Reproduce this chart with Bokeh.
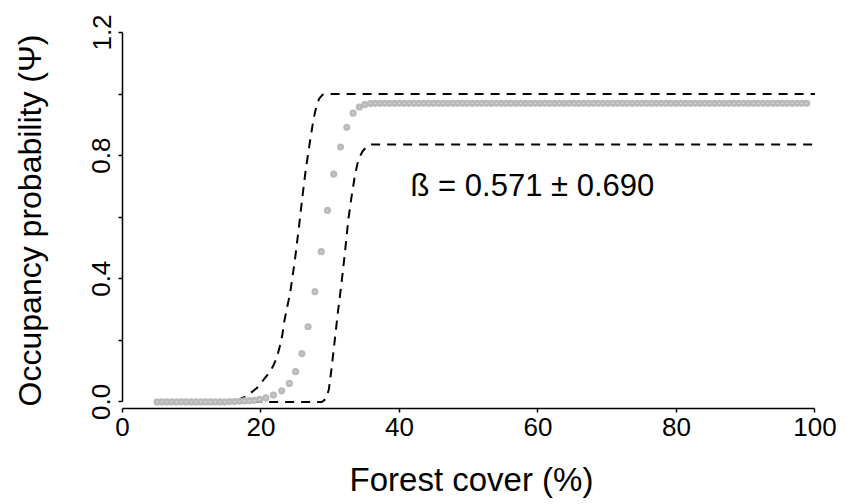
from bokeh.plotting import figure
from bokeh.models import FixedTicker, Range1d, Label, ColumnDataSource
from bokeh.embed import file_html
from bokeh.resources import INLINE

# ---- data ----
# predicted occupancy (grey points)
psi_x = [5.0, 5.7, 6.4, 7.1, 7.8, 8.5, 9.2, 9.9, 10.6, 11.3, 12.0, 12.7, 13.4, 14.1,
         14.8, 15.5, 16.2, 16.9, 17.6, 18.3, 19.0, 19.8, 20.7, 21.8, 23.0, 24.1, 25.0,
         25.9, 26.8, 27.8, 28.7, 29.6, 30.5, 31.5, 32.4, 33.3, 34.2, 35.0,
         35.8, 36.5, 37.2, 37.9, 38.6, 39.3, 40.0, 40.7, 41.4, 42.1, 42.8, 43.5, 44.2,
         44.9, 45.6, 46.3, 47.0, 47.7, 48.4, 49.1, 49.8, 50.5, 51.2, 51.9, 52.6, 53.3,
         54.0, 54.7, 55.4, 56.1, 56.8, 57.5, 58.2, 58.9, 59.6, 60.3, 61.0, 61.7, 62.4,
         63.1, 63.8, 64.5, 65.2, 65.9, 66.6, 67.3, 68.0, 68.7, 69.4, 70.1, 70.8, 71.5,
         72.2, 72.9, 73.6, 74.3, 75.0, 75.7, 76.4, 77.1, 77.8, 78.5, 79.2, 79.9, 80.6,
         81.3, 82.0, 82.7, 83.4, 84.1, 84.8, 85.5, 86.2, 86.9, 87.6, 88.3, 89.0, 89.7,
         90.4, 91.1, 91.8, 92.5, 93.2, 93.9, 94.6, 95.3, 96.0, 96.7, 97.4, 98.1, 98.8,
         99.5, 100.0]
psi_y = [0.000, 0.000, 0.000, 0.000, 0.000, 0.000, 0.000, 0.000, 0.000, 0.000, 0.000,
         0.000, 0.000, 0.000, 0.000, 0.001, 0.001, 0.002, 0.003, 0.004, 0.005, 0.008,
         0.013, 0.022, 0.036, 0.060, 0.098, 0.157, 0.244, 0.358, 0.488, 0.622, 0.740,
         0.828, 0.892, 0.938, 0.958, 0.966,
         0.969, 0.970, 0.970, 0.970, 0.970, 0.970, 0.970, 0.970, 0.970, 0.970, 0.970,
         0.970, 0.970, 0.970, 0.970, 0.970, 0.970, 0.970, 0.970, 0.970, 0.970, 0.970,
         0.970, 0.970, 0.970, 0.970, 0.970, 0.970, 0.970, 0.970, 0.970, 0.970, 0.970,
         0.970, 0.970, 0.970, 0.970, 0.970, 0.970, 0.970, 0.970, 0.970, 0.970, 0.970,
         0.970, 0.970, 0.970, 0.970, 0.970, 0.970, 0.970, 0.970, 0.970, 0.970, 0.970,
         0.970, 0.970, 0.970, 0.970, 0.970, 0.970, 0.970, 0.970, 0.970, 0.970, 0.970,
         0.970, 0.970, 0.970, 0.970, 0.970, 0.970, 0.970, 0.970, 0.970, 0.970, 0.970,
         0.970, 0.970, 0.970, 0.970, 0.970, 0.970, 0.970, 0.970, 0.970, 0.970, 0.970,
         0.970, 0.970, 0.970]

# upper 95% bound (dashed)
upper_x = [5.0, 12.0, 15.0, 16.6, 17.6, 18.4, 19.4, 20.3, 21.0, 21.7, 22.3, 22.7, 23.1,
           23.4, 23.8, 24.2, 24.9, 25.6, 26.0, 26.5, 27.1, 27.6, 28.0, 28.4, 28.9, 29.5,
           100.0]
upper_y = [0.000, 0.000, 0.002, 0.006, 0.015, 0.027, 0.045, 0.070, 0.090, 0.114, 0.145,
           0.179, 0.220, 0.266, 0.310, 0.352, 0.461, 0.591, 0.670, 0.760, 0.850, 0.920,
           0.960, 0.985, 0.998, 1.000, 1.000]

# lower 95% bound (dashed)
lower_x = [5.0, 28.8, 29.4, 29.8, 30.2, 30.6, 31.1, 31.6, 32.1, 32.6, 33.1, 33.6, 34.1,
           34.7, 35.3, 36.0, 100.0]
lower_y = [0.000, 0.000, 0.010, 0.040, 0.110, 0.190, 0.290, 0.380, 0.480, 0.590, 0.670,
           0.740, 0.790, 0.815, 0.830, 0.836, 0.836]

x_ticks = [0, 20, 40, 60, 80, 100]
y_ticks = [0.0, 0.2, 0.4, 0.6, 0.8, 1.0, 1.2]
y_tick_labels = ["0.0", "", "0.4", "", "0.8", "", "1.2"]
annotation = "ß = 0.571 ± 0.690"

FONT = "Liberation Sans"

p = figure(width=852, height=504, output_backend="svg", toolbar_location=None,
           x_range=Range1d(0, 100.8), y_range=Range1d(-0.0215, 1.2),
           min_border_left=122, min_border_right=32, min_border_top=32,
           min_border_bottom=96)
p.outline_line_color = None
p.grid.visible = False
p.background_fill_color = "white"
p.border_fill_color = "white"

src_u = ColumnDataSource(dict(x=upper_x, y=upper_y))
src_l = ColumnDataSource(dict(x=lower_x, y=lower_y))
src_p = ColumnDataSource(dict(x=psi_x, y=psi_y))

p.line("x", "y", source=src_u, line_color="black", line_width=2, line_dash="9 7")
p.line("x", "y", source=src_l, line_color="black", line_width=2, line_dash="9 7")
p.scatter("x", "y", source=src_p, marker="circle", size=4.2, line_width=3,
          line_color="#bababa", fill_color="#f2f2f2")

p.add_layout(Label(x=41.6, y=0.702, text=annotation, text_font=FONT,
                   text_font_size="31px", text_align="left",
                   text_baseline="alphabetic", text_color="black"))

# x axis
xa = p.xaxis[0]
xa.ticker = FixedTicker(ticks=x_ticks)
xa.bounds = (0, 100)
xa.axis_label = "Forest cover (%)"
xa.axis_label_text_font = FONT
xa.axis_label_text_font_size = "33px"
xa.axis_label_text_font_style = "normal"
xa.axis_label_text_color = "black"
xa.axis_label_standoff = 22
xa.major_label_text_font = FONT
xa.major_label_text_font_size = "26px"
xa.major_label_text_color = "black"
xa.major_label_standoff = 5
xa.major_tick_out = 4
xa.major_tick_in = 0
xa.minor_tick_out = 0
xa.minor_tick_in = 0
xa.axis_line_width = 1.5
xa.major_tick_line_width = 1.5

# y axis
ya = p.yaxis[0]
ya.ticker = FixedTicker(ticks=y_ticks)
ya.major_label_overrides = {t: l for t, l in zip(y_ticks, y_tick_labels)}
ya.bounds = (0, 1.2)
ya.major_label_orientation = "vertical"
ya.axis_label = "Occupancy probability (Ψ)"
ya.axis_label_text_font = FONT
ya.axis_label_text_font_size = "32px"
ya.axis_label_text_font_style = "normal"
ya.axis_label_text_color = "black"
ya.axis_label_standoff = 42
ya.major_label_text_font = FONT
ya.major_label_text_font_size = "26px"
ya.major_label_text_color = "black"
ya.major_label_standoff = 8
ya.major_tick_out = 4
ya.major_tick_in = 0
ya.minor_tick_out = 0
ya.minor_tick_in = 0
ya.axis_line_width = 1.5
ya.major_tick_line_width = 1.5

open("out.html", "w").write(file_html(p, INLINE))
